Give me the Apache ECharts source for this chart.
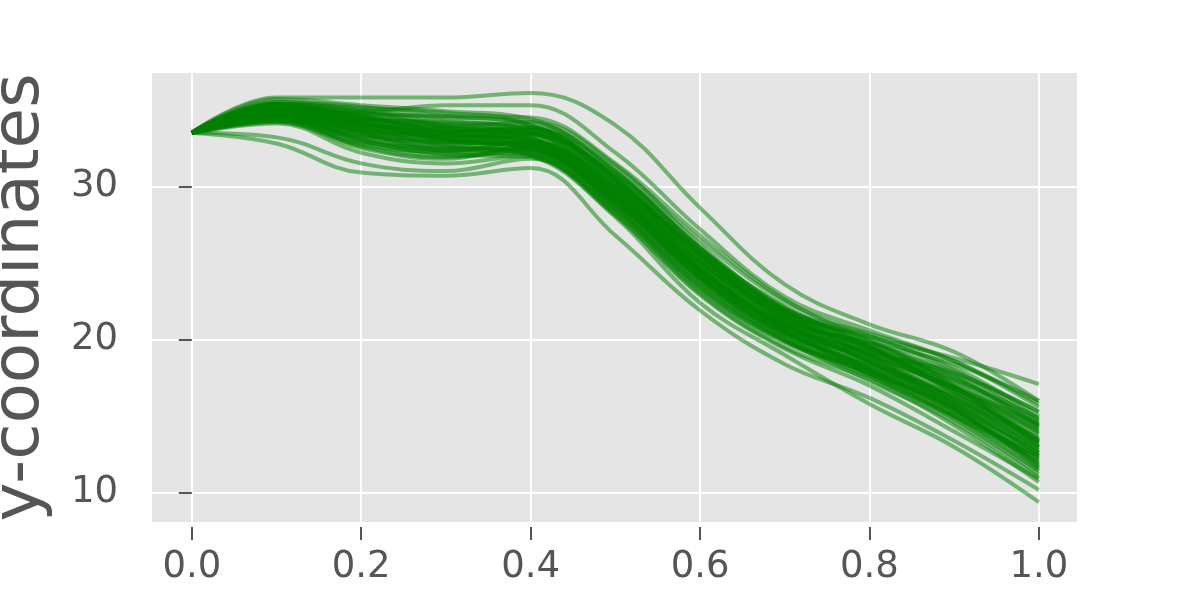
<!DOCTYPE html>
<html>
<head>
<meta charset="utf-8">
<script src="https://cdn.jsdelivr.net/npm/echarts@6/dist/echarts.min.js"></script>
<style>
html,body{margin:0;padding:0;background:#fff;}
#chart{width:1200px;height:600px;}
</style>
</head>
<body>
<div id="chart"></div>
<script>
// x positions of the sampled points
const xValues = [0, 0.1, 0.2, 0.3, 0.4, 0.5, 0.6, 0.7, 0.8, 0.9, 1.0];
// tick values
const xTicks = [0, 0.2, 0.4, 0.6, 0.8, 1.0];
const yTicks = [10, 20, 30];
const yAxisTitle = 'y-coordinates';
// each curve: y values at xValues
const curves = [
  [33.5,35.8,35.8,35.8,36.1,34.0,28.6,23.6,21.0,19.2,16.0],
  [33.5,35.3,34.9,35.3,35.3,32.2,27.2,22.8,20.6,18.6,15.6],
  [33.5,35.0,34.8,34.5,34.2,31.0,26.0,22.0,20.2,18.8,17.1],
  [33.5,34.8,34.2,33.5,33.8,30.5,25.5,21.5,19.5,17.6,14.4],
  [33.5,34.9,33.8,32.8,32.9,29.8,25.0,21.8,20.0,17.0,13.0],
  [33.5,34.5,33.0,32.2,32.5,29.0,24.2,20.8,18.8,16.0,12.5],
  [33.5,35.3,34.5,33.8,33.2,29.5,24.5,21.0,19.2,17.8,15.3],
  [33.5,34.2,32.5,31.8,32.6,30.0,25.2,21.2,18.5,15.5,11.6],
  [33.5,33.2,31.5,31.0,31.8,28.3,23.2,19.8,17.8,15.0,12.0],
  [33.5,32.8,30.9,30.7,31.2,26.8,21.9,18.4,16.2,13.4,10.2],
  [33.5,35.0,34.0,33.0,32.4,28.5,23.5,20.0,17.3,14.6,11.0],
  [33.5,34.7,33.6,33.3,33.4,30.2,25.8,22.2,19.6,16.5,13.2],
  [33.5,35.4,34.8,33.9,33.0,28.8,23.8,20.5,18.9,16.8,14.0],
  [33.5,34.6,33.4,32.6,32.0,28.0,22.4,19.0,15.8,13.0,9.4],
  [33.5,35.1,34.3,33.6,33.9,31.2,26.5,22.5,20.3,18.0,14.8],
  [33.5,34.4,33.2,32.9,33.3,30.8,25.9,21.6,18.9,15.8,12.8],
  [33.5,34.9,33.9,33.2,32.6,28.9,24.0,20.2,17.6,14.9,11.4],
  [33.5,35.5,35.0,34.3,33.6,29.8,24.6,21.2,19.8,18.4,16.0],
  [33.5,34.3,32.8,32.0,32.2,29.2,24.4,20.6,18.2,15.3,12.2],
  [33.5,34.8,34.0,33.9,34.2,31.4,26.2,21.9,19.0,16.2,13.6],
  [33.5,35.2,34.6,34.0,33.5,30.0,25.0,21.0,18.0,15.2,12.4],
  [33.5,34.6,33.1,32.4,32.7,29.6,24.8,21.4,19.4,16.9,13.4],
  [33.5,35.0,34.2,33.1,32.3,28.4,23.3,19.9,18.1,15.9,12.9],
  [33.5,34.1,32.2,31.5,32.0,28.6,23.6,20.1,17.9,15.6,11.9],
  [33.5,35.3,34.7,34.6,34.5,31.5,26.8,22.6,19.9,17.2,14.2],
  [33.5,34.7,33.7,32.7,32.1,28.2,23.0,19.5,17.4,14.4,10.7],
  [33.5,34.9,34.1,33.4,33.0,29.4,24.3,20.9,19.1,17.3,14.6],
  [33.5,34.5,33.3,33.1,33.7,30.6,25.6,21.3,18.6,15.7,12.6],
  [33.5,35.1,34.4,33.5,32.8,29.1,24.1,20.4,18.4,16.4,13.8],
  [33.5,34.8,33.5,32.5,32.4,29.0,23.9,20.3,18.3,16.1,13.1],
  [33.5,35.4,35.1,34.8,34.0,30.4,25.3,21.7,20.1,18.2,15.0],
  [33.5,34.2,32.7,32.3,32.9,29.9,24.9,20.7,17.7,14.8,11.2],
  [33.5,34.9,33.8,33.0,32.8,29.3,24.5,21.1,19.3,17.5,14.3],
  [33.5,34.6,33.6,33.4,33.1,29.7,24.7,20.6,18.0,15.4,12.1],
  [33.5,35.0,34.4,34.1,33.8,30.3,25.4,21.5,19.0,16.6,13.5],
  [33.5,34.4,33.0,32.1,31.9,28.1,22.9,19.4,17.0,14.0,10.9],
  [33.5,35.2,34.5,33.7,33.4,30.1,25.1,21.4,19.7,17.7,14.7],
  [33.5,34.7,33.9,33.6,33.5,30.7,25.7,21.9,19.5,16.7,13.3],
  [33.5,34.3,32.9,32.6,32.9,29.5,24.6,20.9,18.7,16.3,12.7],
  [33.5,35.1,34.1,33.2,32.7,28.7,23.7,20.0,17.8,15.5,11.7],
  [33.5,35.5,35.2,34.6,34.0,30.6,25.6,22.0,20.4,18.6,15.8],
  [33.5,35.3,34.2,33.0,32.5,29.2,24.2,20.6,18.6,16.2,13.3],
  [33.5,34.9,33.5,32.3,32.1,28.9,24.0,20.3,17.9,15.1,11.5],
  [33.5,35.7,35.3,34.9,34.4,31.0,25.9,21.8,19.4,17.0,14.5],
  [33.5,35.0,34.3,33.8,33.6,30.2,25.3,21.6,19.5,17.4,14.9],
  [33.5,34.5,33.4,32.9,32.7,29.4,24.5,20.8,18.5,15.8,12.3],
  [33.5,35.4,34.9,34.0,33.2,29.6,24.6,21.0,19.0,16.8,14.1],
  [33.5,34.8,33.7,33.3,33.4,30.4,25.5,21.7,19.3,16.6,13.4],
  [33.5,35.2,34.6,33.6,32.9,29.3,24.2,20.5,18.2,15.6,12.6],
  [33.5,34.6,33.2,32.4,32.3,29.0,24.1,20.5,18.1,15.4,11.8],
  [33.5,35.1,34.0,33.2,33.1,29.9,25.0,21.3,19.1,16.9,14.4],
  [33.5,34.9,34.4,34.2,33.9,30.5,25.6,21.9,19.8,17.9,15.3],
  [33.5,35.3,34.6,33.4,32.6,28.6,23.4,19.9,17.6,15.0,12.4],
  [33.5,34.4,32.6,31.9,32.4,29.4,24.6,20.9,18.6,16.0,13.0],
  [33.5,35.0,34.1,33.6,33.7,30.9,26.0,22.1,19.6,16.9,13.9]
];

const chart = echarts.init(document.getElementById('chart'), null, {renderer: 'canvas'});
const labelStyle = {color: '#555555', fontSize: 37, fontFamily: 'DejaVu Sans'};
const series = curves.map(function (ys) {
  return {
    type: 'line',
    data: xValues.map(function (x, i) { return [x, ys[i]]; }),
    smooth: 0.4,
    showSymbol: false,
    silent: true,
    lineStyle: {color: '#008000', width: 4, opacity: 0.5},
    z: 3
  };
});
chart.setOption({
  animation: false,
  backgroundColor: '#ffffff',
  grid: {left: 152, right: 123, top: 73, bottom: 78, show: true, backgroundColor: '#E5E5E5', borderWidth: 0,
         containLabel: false, outerBoundsMode: 'none'},
  xAxis: {
    type: 'value', min: -0.047, max: 1.045, offset: 5,
    axisLine: {show: false},
    axisTick: {show: true, length: 13, lineStyle: {color: '#555555', width: 2}, customValues: xTicks},
    axisLabel: Object.assign({margin: 22, customValues: xTicks, formatter: function (v) { return v.toFixed(1); }}, labelStyle),
    splitLine: {show: true, lineStyle: {color: '#ffffff', width: 2}}
  },
  yAxis: {
    type: 'value', min: 8.1, max: 37.4, offset: 4,
    name: yAxisTitle, nameLocation: 'middle', nameGap: 94,
    nameTextStyle: {color: '#555555', fontSize: 66, fontFamily: 'DejaVu Sans'},
    axisLine: {show: false},
    axisTick: {show: true, length: 13, lineStyle: {color: '#555555', width: 2}, customValues: yTicks},
    axisLabel: Object.assign({margin: 30, customValues: yTicks}, labelStyle),
    splitLine: {show: true, lineStyle: {color: '#ffffff', width: 2}}
  },
  series: series
});
</script>
</body>
</html>
